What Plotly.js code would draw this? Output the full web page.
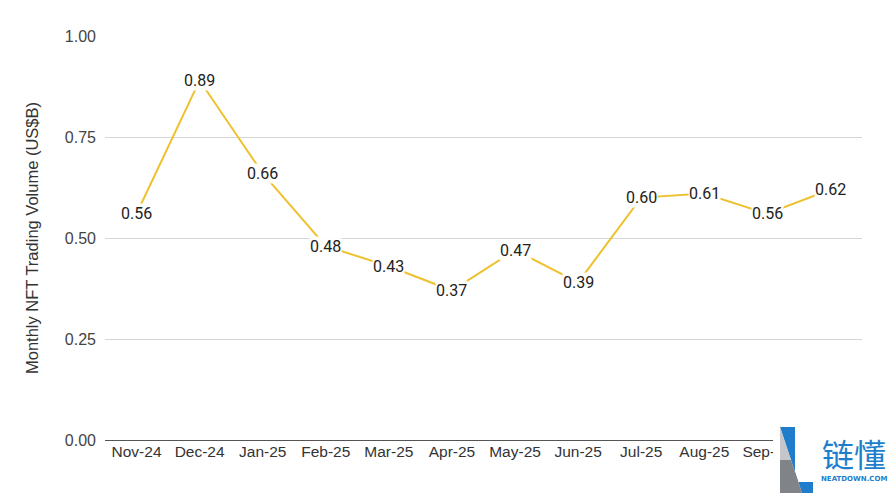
<!DOCTYPE html>
<html><head><meta charset="utf-8">
<script src="https://cdn.plot.ly/plotly-3.0.1.min.js"></script>
<style>html,body{margin:0;padding:0;background:#fff}#chart{width:892px;height:495px}</style>
</head><body><div id="chart"></div>
<script>
const months = ["Nov-24","Dec-24","Jan-25","Feb-25","Mar-25","Apr-25","May-25","Jun-25","Jul-25","Aug-25","Sep-25","Oct-25"];
const volume = [0.56,0.89,0.66,0.48,0.43,0.37,0.47,0.39,0.60,0.61,0.56,0.62];
const labels = volume.map(v => v.toFixed(2));
// the last month's tick label is hidden behind the logo in the reference
const visibleTicks = months.slice(0, 11);

const L = 105, R = 862, T = 36, B = 440;
const px = x => (x - L) / (R - L);
const py = y => (B - y) / (B - T);

const annotations = months.map((m, i) => ({
  x: m, y: volume[i], xref: 'x', yref: 'y', text: labels[i], showarrow: false,
  xanchor: 'center', yanchor: 'middle',
  bgcolor: 'rgba(255,255,255,0.92)', borderpad: 0,
  font: {family: 'Roboto, Arial, sans-serif', size: 16, color: '#222'}
}));
annotations.push(
  {xref:'paper', yref:'paper', x: px(854), y: py(453), xanchor:'center', yanchor:'middle',
   text: '链懂', showarrow:false,
   font:{family:'"Noto Sans CJK SC", sans-serif', size: 32, color:'#1d7fcc'}},
  {xref:'paper', yref:'paper', x: px(854), y: py(479), xanchor:'center', yanchor:'middle',
   text: '<b>NEATDOWN.COM</b>', showarrow:false,
   font:{family:'"DejaVu Sans", sans-serif', size: 7, color:'#1d7fcc'}}
);

const shapes = [
  {type:'rect', xref:'paper', yref:'paper', x0: px(773), x1: px(892), y0: py(495), y1: py(421),
   fillcolor:'#ffffff', line:{width:0}, layer:'above'},
  {type:'path', xref:'paper', yref:'paper', layer:'above', line:{width:0}, fillcolor:'#1f7dcc',
   path: `M ${px(780)} ${py(427)} L ${px(795)} ${py(427)} L ${px(795)} ${py(482)} L ${px(813)} ${py(482)} L ${px(813)} ${py(493)} L ${px(802)} ${py(493)} Z`},
  {type:'path', xref:'paper', yref:'paper', layer:'above', line:{width:0}, fillcolor:'#c4c6c9',
   path: `M ${px(780)} ${py(427)} L ${px(791)} ${py(460)} L ${px(780)} ${py(460)} Z`},
  {type:'path', xref:'paper', yref:'paper', layer:'above', line:{width:0}, fillcolor:'#808388',
   path: `M ${px(780)} ${py(460)} L ${px(791)} ${py(460)} L ${px(802)} ${py(493)} L ${px(780)} ${py(493)} Z`}
];

Plotly.newPlot('chart', [{
  x: months, y: volume, type: 'scatter', mode: 'lines',
  line: {color: '#eec12f', width: 2}, hoverinfo: 'skip'
}], {
  width: 892, height: 495,
  margin: {l: L, r: 892 - R, t: T, b: 495 - B},
  paper_bgcolor: '#fff', plot_bgcolor: '#fff',
  showlegend: false,
  xaxis: {type:'category', range:[-0.5, 11.5], showgrid:false, zeroline:false,
    tickmode:'array', tickvals: visibleTicks, ticktext: visibleTicks,
    showline:false, ticks:'', tickfont:{family:'"Liberation Sans", Arial, sans-serif', size:15.5, color:'#333'}},
  yaxis: {range:[0, 1], tickvals:[0,0.25,0.5,0.75,1], ticktext:['0.00','0.25','0.50','0.75','1.00'],
    showgrid:true, gridcolor:'#d6d6d6', gridwidth:1, zeroline:true, zerolinecolor:'#555', zerolinewidth:1,
    ticks:'', ticklabelstandoff: 8,
    tickfont:{family:'"Liberation Sans", Arial, sans-serif', size:16, color:'#444'},
    title:{text:'Monthly NFT Trading Volume (US$B)', standoff: 22,
      font:{family:'"Liberation Sans", Arial, sans-serif', size:16.5, color:'#333'}}},
  annotations, shapes
}, {staticPlot: true});
</script></body></html>
